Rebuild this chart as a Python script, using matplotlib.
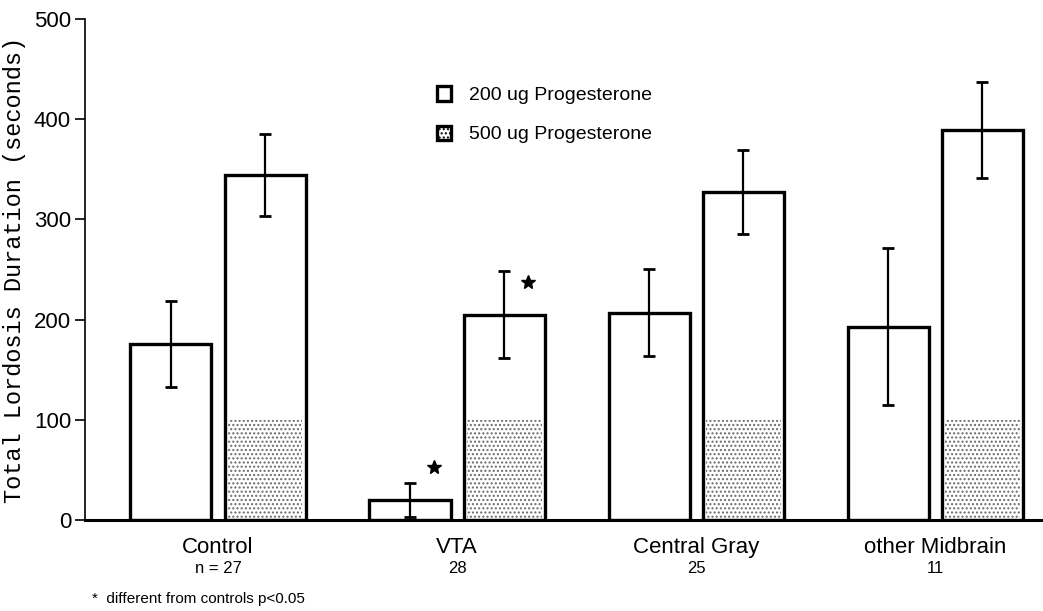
import numpy as np
import matplotlib.pyplot as plt
from matplotlib.patches import Patch

regions = ['Control', 'VTA', 'Central Gray', 'other Midbrain']
n_labels = ['n = 27', '28', '25', '11']
low_mean = [176, 20, 207, 193]      # 200 ug
low_err = [43, 17, 43, 78]
high_mean = [344, 205, 327, 389]    # 500 ug
high_err = [41, 43, 42, 48]
# significance stars: group, which bar (-1 = 200 ug, +1 = 500 ug), height
star_group = [1, 1]
star_side = [-1, 1]
star_y = [53, 237]

plt.rcParams['font.family'] = ['Liberation Sans', 'DejaVu Sans']

fig = plt.figure(figsize=(10.43, 6.11), dpi=100)
ax = fig.add_axes([0.0815, 0.149, 0.9185, 0.82])

x = np.arange(len(regions))
off = 0.197
w = 0.339

ax.bar(x - off, low_mean, w, facecolor='white', edgecolor='black', linewidth=2.4, zorder=2)
# stippled fill of the 500 ug bars (dense near the base, like the scan)
stip = np.minimum(high_mean, 100)
ax.bar(x + off, stip, w * 0.92, facecolor='white', edgecolor='#6a6a6a', linewidth=0,
       hatch='....', zorder=2)
ax.bar(x + off, high_mean, w, facecolor='none', edgecolor='black', linewidth=2.4, zorder=3)

ax.errorbar(x - off, low_mean, yerr=low_err, fmt='none', ecolor='black', elinewidth=1.6,
            capsize=4, capthick=2, zorder=4)
ax.errorbar(x + off, high_mean, yerr=high_err, fmt='none', ecolor='black', elinewidth=1.6,
            capsize=4, capthick=2, zorder=4)

for g, s, yv in zip(star_group, star_side, star_y):
    ax.plot(g + s * off + 0.1, yv, marker='*', color='black', markersize=10, zorder=5)

ax.set_xlim(-0.556, 3.45)
ax.set_ylim(0, 500)
ax.set_yticks([0, 100, 200, 300, 400, 500])
ax.tick_params(axis='y', labelsize=16, length=7, width=1.2, direction='out', pad=3)
ax.set_xticks(x)
ax.set_xticklabels(regions, fontsize=16)
ax.tick_params(axis='x', length=0, pad=12)
for xi, n in zip(x, n_labels):
    ax.annotate(n, (xi, 0), xytext=(0, -35), textcoords='offset points',
                ha='center', va='center', fontsize=12, annotation_clip=False)

ax.set_ylabel('Total Lordosis Duration (seconds)', family='Liberation Mono', fontsize=17,
              labelpad=6)

for side in ['top', 'right']:
    ax.spines[side].set_visible(False)
ax.spines['left'].set_linewidth(1.2)
ax.spines['bottom'].set_linewidth(2.2)

handles = [Patch(facecolor='white', edgecolor='black', linewidth=2.4),
           Patch(facecolor='white', edgecolor='black', linewidth=2.4, hatch='....')]
ax.legend(handles, ['200 ug Progesterone', '500 ug Progesterone'], loc='upper left',
          bbox_to_anchor=(0.357, 0.885), frameon=False, fontsize=14,
          handlelength=0.75, handleheight=0.75, handletextpad=0.9, labelspacing=1.1,
          borderpad=0)

fig.text(0.088, 0.013, '*  different from controls p<0.05', fontsize=11)

fig.savefig('out.png', dpi=100)
